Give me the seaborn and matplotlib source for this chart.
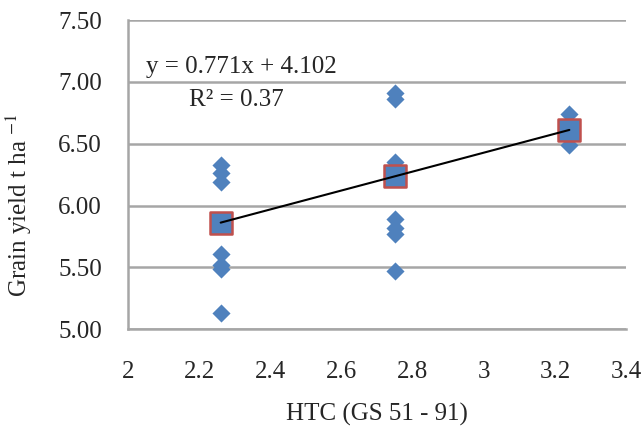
import numpy as np
import pandas as pd
import matplotlib
matplotlib.use("Agg")
import matplotlib.pyplot as plt
import seaborn as sns

# data
htc_levels = [2.26, 2.75, 3.24]
yield_g1 = [6.33, 6.26, 6.19, 5.61, 5.52, 5.49, 5.13]
yield_g2 = [6.91, 6.86, 6.35, 6.31, 5.89, 5.82, 5.77, 5.47]
yield_g3 = [6.74, 6.61, 6.49]
mean_yield = [5.86, 6.24, 6.61]
equation_text = "y = 0.771x + 4.102"
r2_text = "R\u00b2 = 0.37"

df = pd.DataFrame({
    "htc": [htc_levels[0]] * len(yield_g1) + [htc_levels[1]] * len(yield_g2) + [htc_levels[2]] * len(yield_g3),
    "grain_yield": yield_g1 + yield_g2 + yield_g3,
})
means = pd.DataFrame({"htc": htc_levels, "grain_yield": mean_yield})

sns.set_style("white")
plt.rcParams["font.family"] = ["Liberation Serif", "DejaVu Serif"]
plt.rcParams["mathtext.fontset"] = "stix"

blue = "#4F81BD"
red = "#C0504D"
grid_c = "#A6A6A6"
fs = 18

fig, ax = plt.subplots(figsize=(6.41, 4.28), dpi=100)
fig.subplots_adjust(left=0.200, right=0.977, top=0.953, bottom=0.231)

ax.set_axisbelow(True)
ax.yaxis.grid(True, color=grid_c, linewidth=1.8)

sns.scatterplot(data=df, x="htc", y="grain_yield", marker="D", s=85,
                color=blue, linewidth=0, ax=ax, zorder=3)
sns.scatterplot(data=means, x="htc", y="grain_yield", marker="s", s=260,
                color=blue, edgecolor=red, linewidth=1.8, ax=ax, zorder=4)
sns.regplot(data=means, x="htc", y="grain_yield", scatter=False, ci=None,
            truncate=True, line_kws={"color": "black", "linewidth": 1.5, "zorder": 5}, ax=ax)

ax.set_xlim(2, 3.4)
ax.set_ylim(5.0, 7.5)
ax.set_xticks(np.arange(2.0, 3.41, 0.2))
ax.set_xticklabels(["2", "2.2", "2.4", "2.6", "2.8", "3", "3.2", "3.4"])
ax.set_yticks(np.arange(5.0, 7.51, 0.5))
ax.set_yticklabels([f"{v:.2f}" for v in np.arange(5.0, 7.51, 0.5)])

for s in ["top", "right"]:
    ax.spines[s].set_visible(False)
for s in ["left", "bottom"]:
    ax.spines[s].set_color(grid_c)
    ax.spines[s].set_linewidth(1.8)

ax.tick_params(axis="x", direction="out", length=7, width=1.8, color=grid_c, labelsize=fs, pad=16)
ax.tick_params(axis="y", direction="out", length=8, width=1.8, color=grid_c, labelsize=fs, pad=11)

ax.set_xlabel("HTC (GS 51 - 91)", fontsize=fs)
ax.set_ylabel(r"Grain yield t ha $^{-1}$", fontsize=fs)
ax.xaxis.set_label_coords(0.5, -0.24)
ax.yaxis.set_label_coords(-0.19, 0.40)

ax.text(2.05, 7.12, equation_text, fontsize=fs, va="center", ha="left")
ax.text(2.17, 6.855, r2_text, fontsize=fs, va="center", ha="left")

fig.savefig("out.png", dpi=100)
